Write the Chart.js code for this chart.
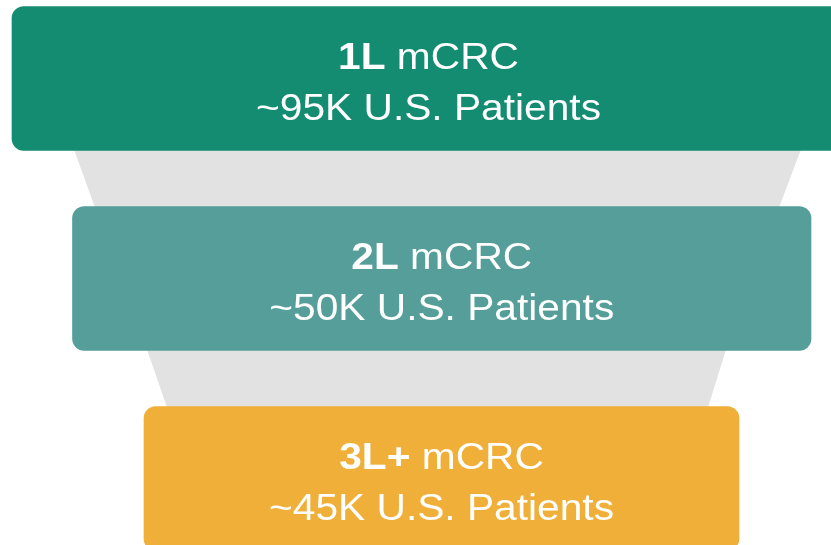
<!DOCTYPE html>
<html>
<head>
<meta charset="utf-8">
<script src="https://cdn.jsdelivr.net/npm/chart.js@4"></script>
<style>
  html, body { margin: 0; padding: 0; background: #ffffff; }
  #wrap { width: 831px; height: 545px; }
</style>
</head>
<body>
<div id="wrap"><canvas id="funnel" width="831" height="545"></canvas></div>
<script>
// Funnel stages (line of therapy) and patient counts in thousands
const stages = ['1L', '2L', '3L+'];
const patientsK = [95, 50, 45];
const stageColors = ['#148c71', '#569e99', '#f0af38'];

// Extent of each stage band on the funnel axis
const stageSpan = [[-430, 403], [-369.5, 369], [-298, 297]];
// Grey connectors between stages: upper and lower edge extents
const connectorTop = [[-368, 359], [-295, 284]];
const connectorBottom = [[-347, 337], [-275, 266]];

const FONT = '"Liberation Sans", Arial, sans-serif';

const connectorPlugin = {
  id: 'connectors',
  beforeDatasetsDraw(chart) {
    const { ctx } = chart;
    const xs = chart.scales.x;
    const bars = chart.getDatasetMeta(0).data;
    ctx.save();
    ctx.fillStyle = '#e2e2e2';
    connectorTop.forEach((top, i) => {
      const upper = bars[i];
      const lower = bars[i + 1];
      const yTop = upper.y + upper.height / 2;
      const yBot = lower.y - lower.height / 2;
      const bottom = connectorBottom[i];
      ctx.beginPath();
      ctx.moveTo(xs.getPixelForValue(top[0]), yTop - 1);
      ctx.lineTo(xs.getPixelForValue(top[1]), yTop - 1);
      ctx.lineTo(xs.getPixelForValue(bottom[1]), yBot + 1);
      ctx.lineTo(xs.getPixelForValue(bottom[0]), yBot + 1);
      ctx.closePath();
      ctx.fill();
    });
    ctx.restore();
  },
};

const labelPlugin = {
  id: 'stageLabels',
  afterDatasetsDraw(chart) {
    const { ctx } = chart;
    const bars = chart.getDatasetMeta(0).data;
    bars.forEach((bar, i) => {
      const cx = (bar.x + bar.base) / 2;
      ctx.save();
      ctx.translate(cx, bar.y);
      ctx.scale(1.1, 1);
      ctx.fillStyle = '#ffffff';
      ctx.textBaseline = 'alphabetic';

      const boldPart = stages[i];
      const restPart = ' mCRC';
      ctx.font = `bold 37px ${FONT}`;
      const w1 = ctx.measureText(boldPart).width;
      ctx.font = `37px ${FONT}`;
      const w2 = ctx.measureText(restPart).width;
      const startX = -(w1 + w2) / 2;
      ctx.textAlign = 'left';
      ctx.font = `bold 37px ${FONT}`;
      ctx.fillText(boldPart, startX, -9.5);
      ctx.font = `37px ${FONT}`;
      ctx.fillText(restPart, startX + w1, -9.5);

      ctx.textAlign = 'center';
      ctx.fillText(`~${patientsK[i]}K U.S. Patients`, 0, 41.5);
      ctx.restore();
    });
  },
};

new Chart(document.getElementById('funnel'), {
  type: 'bar',
  data: {
    datasets: [
      {
        data: stages.map((stage, i) => ({ x: stageSpan[i], y: i })),
        backgroundColor: stageColors,
        borderRadius: 12,
        borderSkipped: false,
        barThickness: 144,
      },
    ],
  },
  options: {
    indexAxis: 'y',
    responsive: false,
    animation: false,
    devicePixelRatio: 1,
    layout: { padding: 0 },
    scales: {
      x: {
        type: 'linear',
        display: false,
        offset: false,
        min: -442,
        max: 389,
      },
      y: {
        type: 'linear',
        display: false,
        offset: false,
        reverse: true,
        min: -0.3925,
        max: 2.3325,
      },
    },
    plugins: {
      legend: { display: false },
      tooltip: { enabled: false },
    },
  },
  plugins: [connectorPlugin, labelPlugin],
});
</script>
</body>
</html>
